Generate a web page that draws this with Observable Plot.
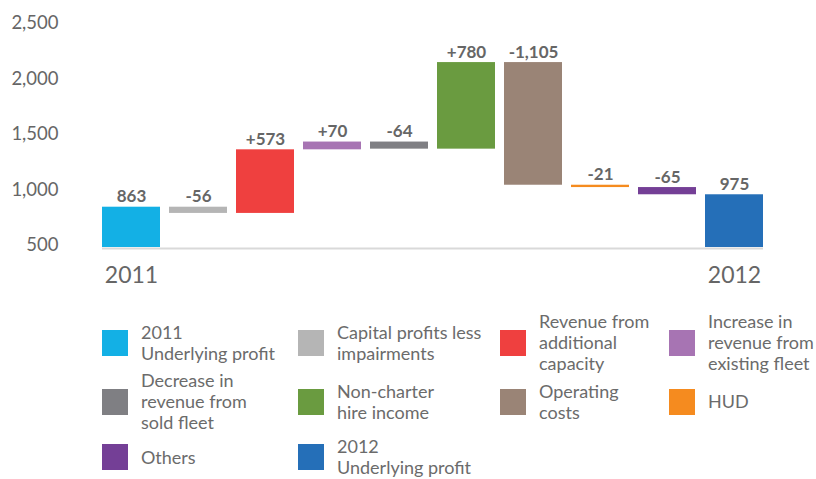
<!DOCTYPE html>
<html>
<head>
<meta charset="utf-8">
<script src="https://cdn.jsdelivr.net/npm/d3@7"></script>
<script src="https://cdn.jsdelivr.net/npm/@observablehq/plot@0.6"></script>
<style>
  body { margin: 0; background: #fff; font-family: Lato, "Open Sans", sans-serif; }
  #chart { width: 816px; height: 300px; }
  #legend { width: 816px; height: 179px; padding-top: 13px; box-sizing: border-box; display: grid;
            grid-template-columns: 102px 196px 202px 169px 147px; grid-template-rows: 59px 59px 52px; }
  .lg-item { display: flex; align-items: center; color: #6b6b6b; font-size: 18px; line-height: 21px; white-space: nowrap; }
  .lg-sw { width: 26px; height: 26px; flex: none; margin-right: 13px; }
</style>
</head>
<body>
<div id="chart"></div>
<div id="legend"></div>
<script>
const categories = [
  "2011 Underlying profit",
  "Capital profits less impairments",
  "Revenue from additional capacity",
  "Increase in revenue from existing fleet",
  "Decrease in revenue from sold fleet",
  "Non-charter hire income",
  "Operating costs",
  "HUD",
  "Others",
  "2012 Underlying profit"
];
const changes = [863, -56, 573, 70, -64, 780, -1105, -21, -65, 975];
const isTotal = [true, false, false, false, false, false, false, false, false, true];
const valueLabels = ["863", "-56", "+573", "+70", "-64", "+780", "-1,105", "-21", "-65", "975"];
const colors = ["#13b0e5", "#b5b5b5", "#ef403f", "#a774b3", "#7f7f83", "#6a9b40", "#9a8476", "#f58b1f", "#743f96", "#256fb8"];
const yTicks = [500, 1000, 1500, 2000, 2500];
const yearLabels = ["2011", "2012"];
const yearCategories = ["2011 Underlying profit", "2012 Underlying profit"];
const legendLines = [
  ["2011", "Underlying profit"],
  ["Capital profits less", "impairments"],
  ["Revenue from", "additional", "capacity"],
  ["Increase in", "revenue from", "existing fleet"],
  ["Decrease in", "revenue from", "sold fleet"],
  ["Non-charter", "hire income"],
  ["Operating", "costs"],
  ["HUD"],
  ["Others"],
  ["2012", "Underlying profit"]
];

// legend
const legendBox = document.getElementById("legend");
legendLines.forEach((lines, i) => {
  const c = i % 4;
  if (c === 0) legendBox.appendChild(document.createElement("div"));
  const item = document.createElement("div");
  item.className = "lg-item";
  const sw = document.createElement("div");
  sw.className = "lg-sw";
  sw.style.background = colors[i];
  const tx = document.createElement("div");
  tx.innerHTML = lines.join("<br>");
  item.appendChild(sw);
  item.appendChild(tx);
  legendBox.appendChild(item);
});

// waterfall
let run = 0;
const data = categories.map((c, i) => {
  let y1, y2;
  if (isTotal[i]) { y1 = 0; y2 = changes[i]; run = changes[i]; }
  else { y1 = run; y2 = run + changes[i]; run = y2; }
  return {cat: c, y1, y2, top: Math.max(y1, y2), color: colors[i], label: valueLabels[i]};
});
const yearData = yearLabels.map((t, i) => ({cat: yearCategories[i], year: t, base: 500}));

const chart = Plot.plot({
  width: 816,
  height: 300,
  marginLeft: 93,
  marginRight: 44,
  marginTop: 25,
  marginBottom: 53,
  style: {fontFamily: "Lato, 'Open Sans', sans-serif", color: "#666", background: "#fff"},
  x: {domain: categories, padding: 0.13, axis: null},
  y: {domain: [500, 2500], clamp: true, axis: null},
  color: {type: "identity"},
  marks: [
    Plot.axisY({ticks: yTicks, tickSize: 0, tickPadding: 35, tickFormat: d3.format(","), label: null, fontSize: 18.5, fill: "#666", dy: -2}),
    Plot.barY(data, {x: "cat", y1: "y1", y2: "y2", fill: d => d.color}),
    Plot.ruleY([500], {stroke: "#d9d9d9", strokeWidth: 2, dy: 1, insetLeft: 9, insetRight: 9}),
    Plot.text(data, {x: "cat", y: "top", text: "label", dy: -5, lineAnchor: "bottom", fontWeight: "bold", fontSize: 17, fill: "#666"}),
    Plot.text(yearData, {x: "cat", y: "base", text: "year", dy: 28, lineAnchor: "middle", fontSize: 23, fill: "#666"})
  ]
});
document.getElementById("chart").appendChild(chart);
</script>
</body>
</html>
